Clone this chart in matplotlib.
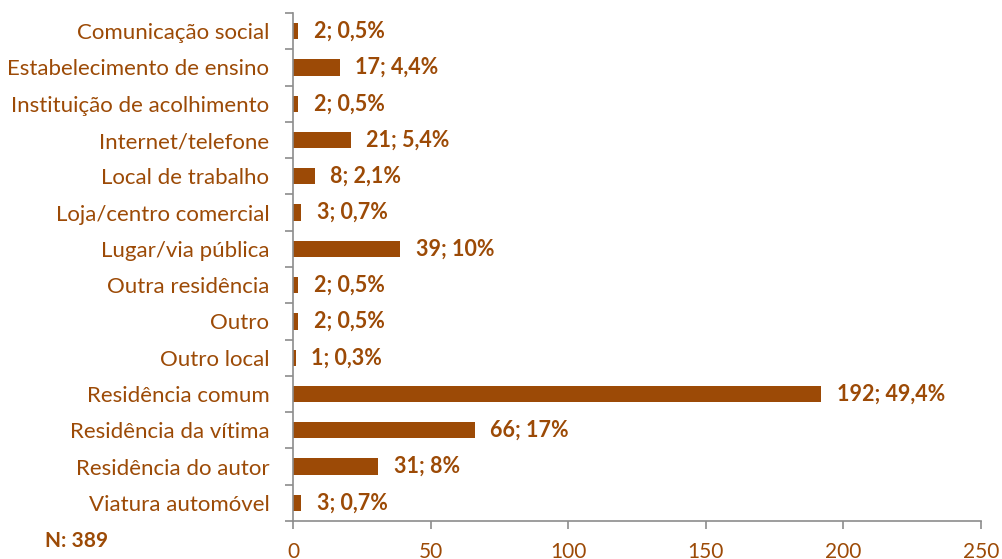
import matplotlib.pyplot as plt

# data
categories = ['Comunicação social', 'Estabelecimento de ensino', 'Instituição de acolhimento',
              'Internet/telefone', 'Local de trabalho', 'Loja/centro comercial',
              'Lugar/via pública', 'Outra residência', 'Outro', 'Outro local',
              'Residência comum', 'Residência da vítima', 'Residência do autor',
              'Viatura automóvel']
counts = [2, 17, 2, 21, 8, 3, 39, 2, 2, 1, 192, 66, 31, 3]
percents = ['0,5%', '4,4%', '0,5%', '5,4%', '2,1%', '0,7%', '10%', '0,5%', '0,5%',
            '0,3%', '49,4%', '17%', '8%', '0,7%']
total = 389
xticks = [0, 50, 100, 150, 200, 250]

brown = '#9C4A06'
gray = '#8C8C8C'
plt.rcParams['font.family'] = ['Lato', 'DejaVu Sans']

fig = plt.figure(figsize=(10.03, 5.59), dpi=100)
ax = fig.add_axes([0.2921, 0.068, 0.686, 0.9087])

pos = list(range(len(categories)))
ax.barh(pos, counts, height=0.45, color=brown)
ax.set_ylim(len(categories) - 0.5, -0.5)
ax.set_xlim(0, 250)

for p, c, pc in zip(pos, counts, percents):
    ax.annotate(f'{c}; {pc}', (c, p), xytext=(11, 0), textcoords='offset points',
                va='center', ha='left', fontsize=15.5, fontweight='bold', color=brown)

ax.set_yticks(pos)
ax.set_yticklabels(categories, fontsize=16, color=brown)
ax.set_yticks([i - 0.5 for i in range(len(categories) + 1)], minor=True)
ax.tick_params(axis='y', which='major', length=0, pad=17)
ax.tick_params(axis='y', which='minor', length=6, width=1.2, color=gray)

ax.set_xticks(xticks)
ax.set_xticklabels([str(t) for t in xticks], fontsize=15, color=brown)
ax.tick_params(axis='x', length=6, width=1.2, color=gray, pad=9)

for side in ['top', 'right']:
    ax.spines[side].set_visible(False)
for side in ['left', 'bottom']:
    ax.spines[side].set_color(gray)
    ax.spines[side].set_linewidth(1.2)

fig.text(0.045, 0.022, f'N: {total}', fontsize=15, fontweight='bold', color=brown)

fig.savefig('out.png', dpi=100)
